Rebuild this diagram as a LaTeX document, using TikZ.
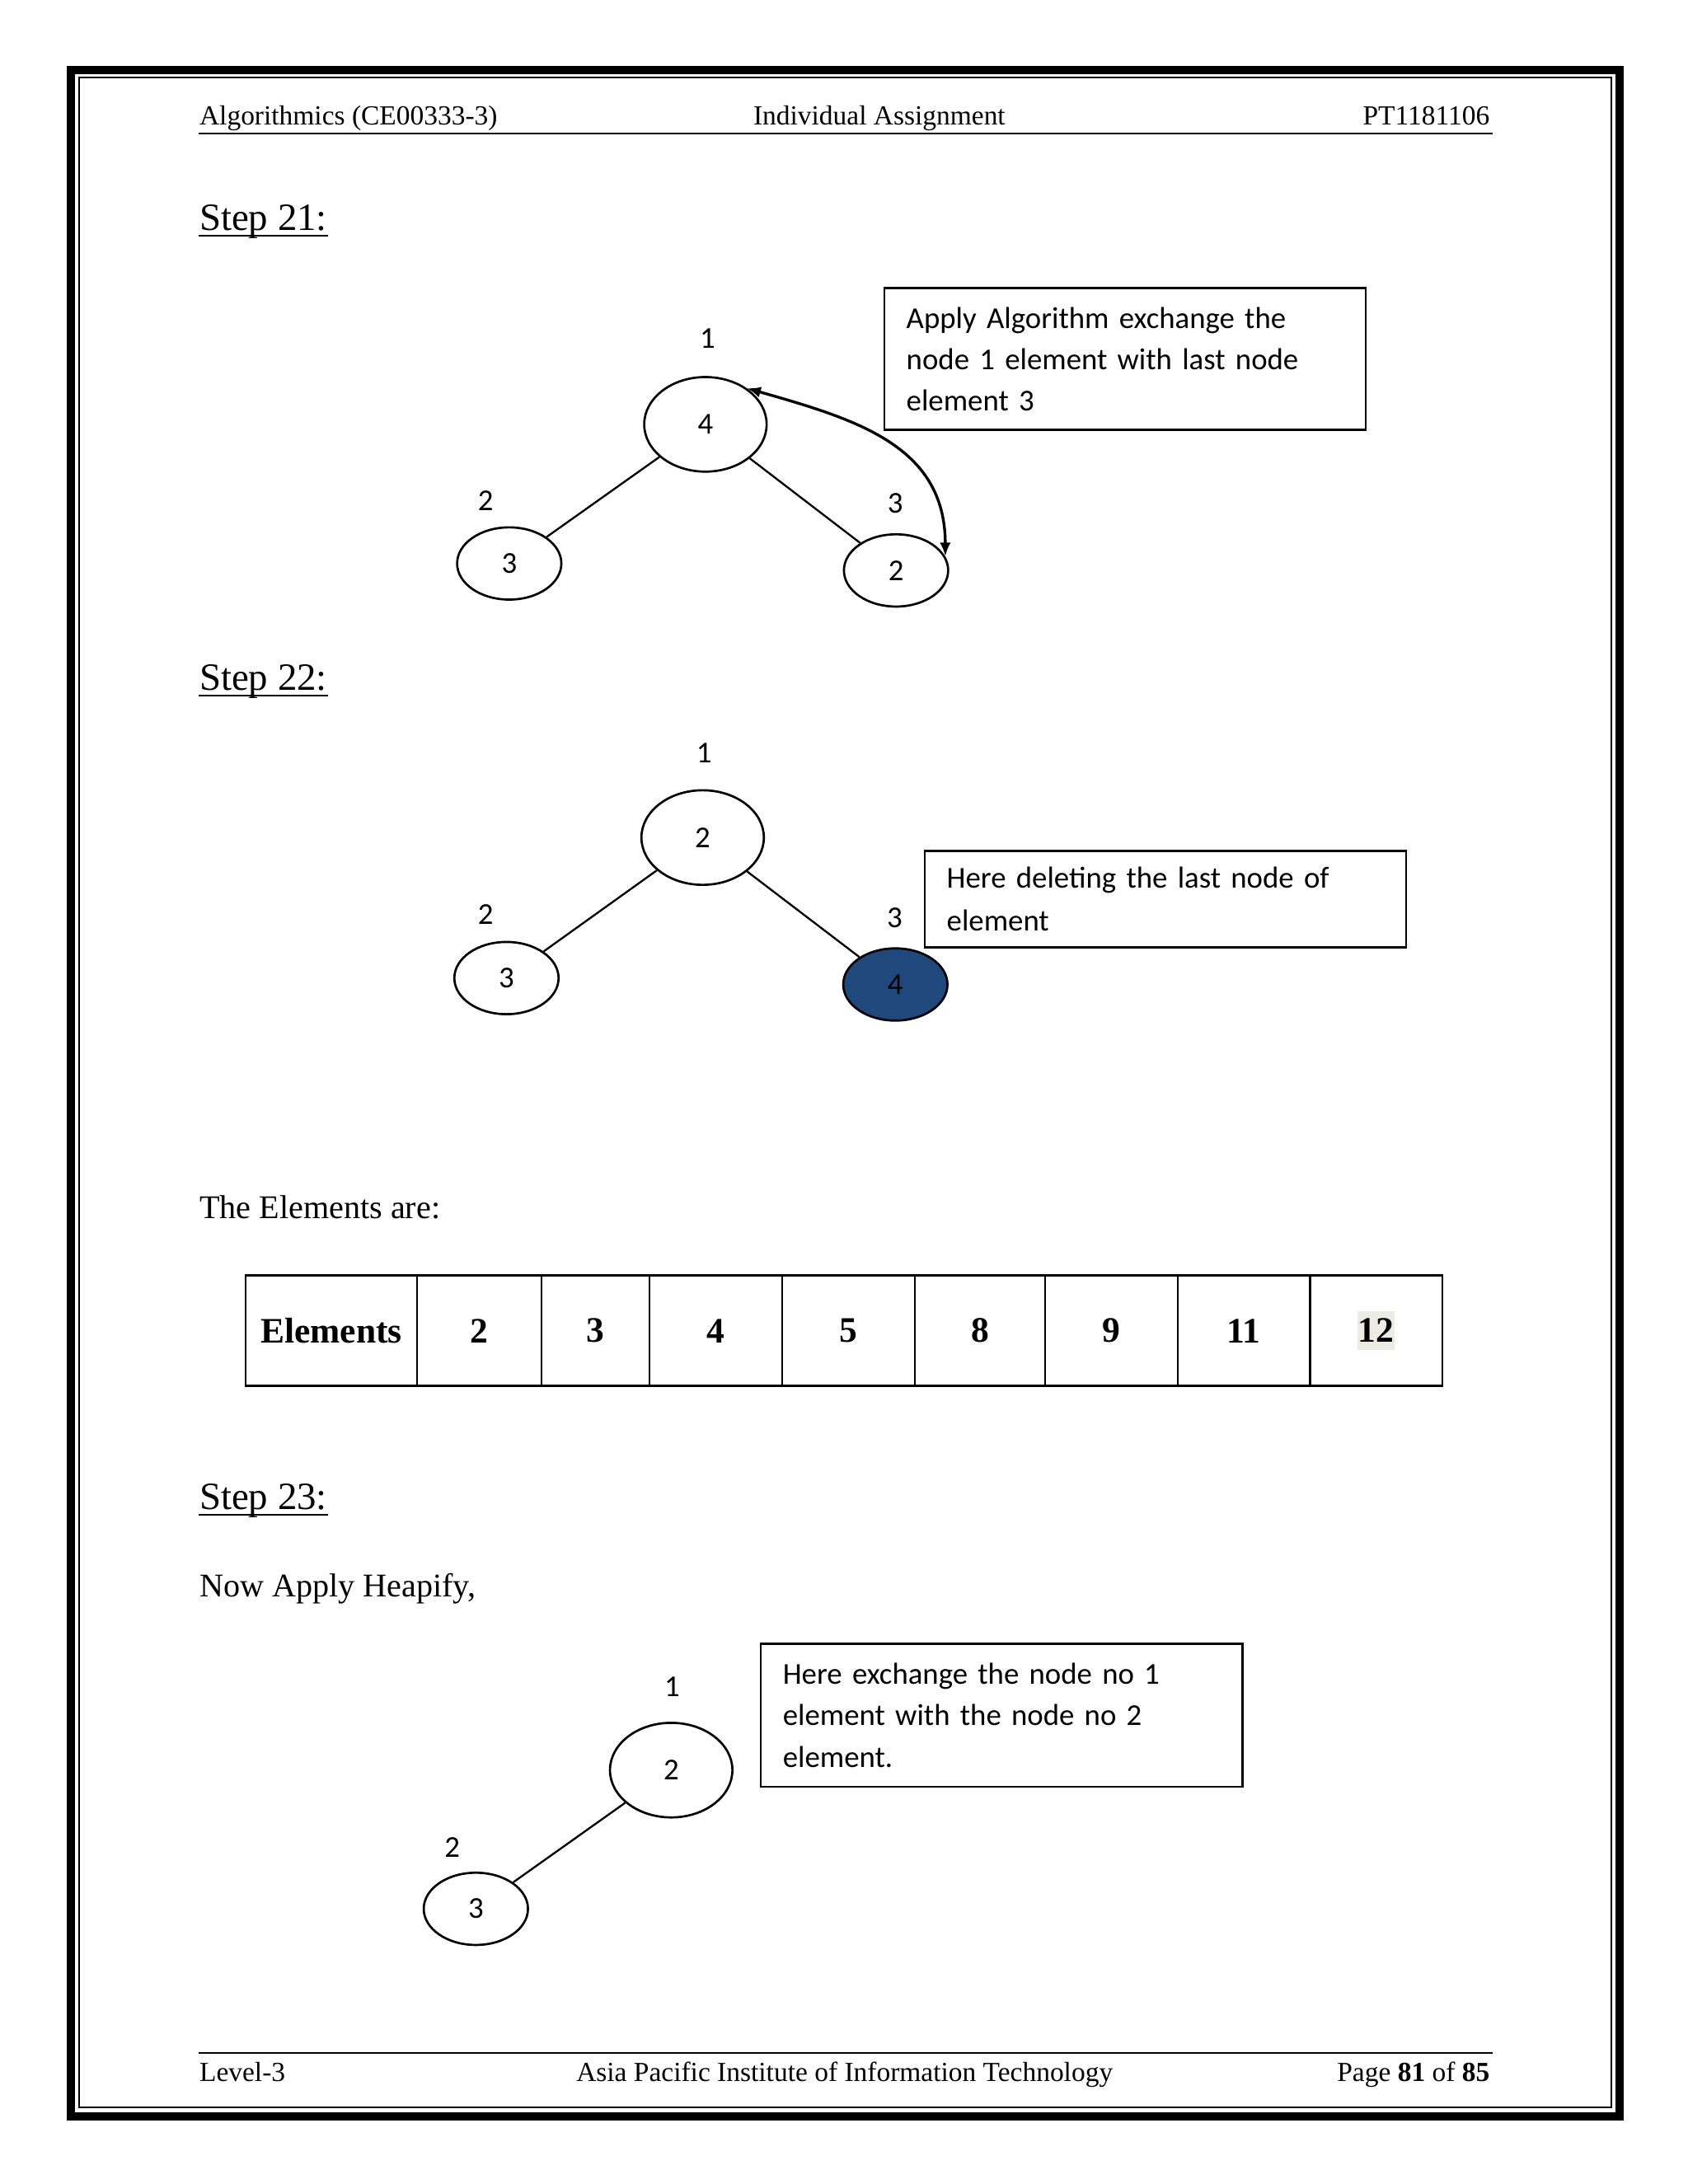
\documentclass[tikz,border=0pt]{standalone}
\usepackage{fontspec}
\setmainfont{Liberation Serif}
\newfontfamily\calibri{Carlito}
\usetikzlibrary{shapes.geometric,arrows.meta}
\definecolor{heapblue}{RGB}{31,73,125}
\definecolor{hlgrey}{RGB}{236,236,228}

\begin{document}
\begin{tikzpicture}[x=0.50453pt, y=-0.50453pt,
    hdr/.style={inner sep=0pt, font=\fontsize{10}{12}\selectfont},
    steplabel/.style={inner sep=0pt, anchor=base west, font=\fontsize{14}{16}\selectfont},
    body/.style={inner sep=0pt, anchor=base west, font=\fontsize{12}{14}\selectfont},
    root/.style={draw, ellipse, line width=0.8pt, minimum width=44.4pt, minimum height=34.3pt, inner sep=0pt, font=\calibri\fontsize{11}{13}\selectfont},
    leaf/.style={root, minimum width=37.8pt, minimum height=26.2pt},
    num/.style={inner sep=0pt, font=\calibri\fontsize{11}{13}\selectfont},
    note/.style={draw, line width=0.8pt, anchor=north west, text width=158.6pt, inner xsep=8pt, align=left, font=\calibri\fontsize{11}{15}\selectfont},
    cell/.style={draw, line width=0.8pt, minimum height=40pt, inner sep=0pt, font=\bfseries\fontsize{13}{15}\selectfont},
    edge/.style={line width=0.7pt}
  ]
  \useasboundingbox (0,0) rectangle (1213,1569.8);

  % page frame
  \draw[line width=3pt] (51,50.4) rectangle (1163.8,1521);
  \draw[line width=0.6pt] (56.9,55.7) rectangle (1158.2,1514.8);

  % header and footer
  \node[hdr, anchor=base west] (hleft) at (143,90) {Algorithmics (CE00333-3)};
  \node[hdr, anchor=base] (hmid) at (632,90) {Individual Assignment};
  \node[hdr, anchor=base east] (hright) at (1071,90) {PT1181106};
  \draw[line width=0.8pt] (143,96) -- (1073,96);
  \draw[line width=0.8pt] (143,1475.5) -- (1073,1475.5);
  \node[hdr, anchor=base west] (fleft) at (143,1496) {Level-3};
  \node[hdr, anchor=base] (fmid) at (607,1496) {Asia Pacific Institute of Information Technology};
  \node[hdr, anchor=base east] (fright) at (1071,1496) {Page \textbf{81} of \textbf{85}};

  % step 21
  \node[steplabel] (s21) at (143,165.5) {Step 21:};
  \draw[line width=0.7pt] ([yshift=-2pt]s21.base west) -- ([yshift=-2pt]s21.base east);
  \node[num] (t1n1) at (508.5,243) {1};
  \node[root] (t1a) at (507,305) {4};
  \node[leaf] (t1b) at (366,405) {3};
  \node[leaf] (t1c) at (644,410) {2};
  \node[num] (t1n2) at (349,360) {2};
  \node[num] (t1n3) at (643.5,362) {3};
  \draw[edge] (t1a) -- (t1b);
  \draw[edge] (t1a) -- (t1c);
  \draw[line width=1pt, {Latex[length=5pt,width=4pt]}-{Latex[length=5pt,width=4pt]}] (t1a.41) to[out=-16, in=90, looseness=1.1] (t1c.16);
  \node[note, minimum height=51.4pt] (note1) at (634.8,206.3) {Apply Algorithm exchange the\\node 1 element with last node\\element 3};

  % step 22
  \node[steplabel] (s22) at (143,496) {Step 22:};
  \draw[line width=0.7pt] ([yshift=-2pt]s22.base west) -- ([yshift=-2pt]s22.base east);
  \node[num] (t2n1) at (506,541) {1};
  \node[root] (t2a) at (505,602) {2};
  \node[leaf] (t2b) at (364,703) {3};
  \node[leaf, fill=heapblue] (t2c) at (643.5,707.6) {4};
  \node[num] (t2n2) at (349,657) {2};
  \node[num] (t2n3) at (643,660) {3};
  \draw[edge] (t2a) -- (t2b);
  \draw[edge] (t2a) -- (t2c);
  \node[note, minimum height=34.9pt, font=\calibri\fontsize{11}{15.5}\selectfont] (note2) at (663.8,611) {Here deleting the last node of\\element};

  % elements table
  \node[body] (elabel) at (143,876) {The Elements are:};
  \foreach \xl/\xr/\val [count=\i] in {176.5/299.8/Elements, 299.8/389.2/2, 389.2/466.8/3, 466.8/562.2/4, 562.2/657.6/5, 657.6/751.2/8, 751.2/846.5/9, 846.5/941.4/11}
    \node[cell, minimum width={(\xr-\xl)*0.50453pt}] (c\i) at ({(\xl+\xr)/2},956.5) {\val};
  \node[cell, minimum width={(1036.7-941.4)*0.50453pt}] (c9) at (989.05,956.5) {\setlength\fboxsep{0pt}\colorbox{hlgrey}{\kern0.3pt\rule[-3pt]{0pt}{14.2pt}12\kern0.3pt}};

  % step 23
  \node[steplabel] (s23) at (143,1085) {Step 23:};
  \draw[line width=0.7pt] ([yshift=-2pt]s23.base west) -- ([yshift=-2pt]s23.base east);
  \node[body] (heap) at (143,1148) {Now Apply Heapify,};
  \node[num] (t3n1) at (483,1212.5) {1};
  \node[root] (t3a) at (482.4,1272.3) {2};
  \node[leaf] (t3b) at (342,1372) {3};
  \node[num] (t3n2) at (325,1328) {2};
  \draw[edge] (t3a) -- (t3b);
  \node[note, minimum height=51.8pt] (note3) at (546,1180.8) {Here exchange the node no 1\\element with the node no 2\\element.};
\end{tikzpicture}
\end{document}
